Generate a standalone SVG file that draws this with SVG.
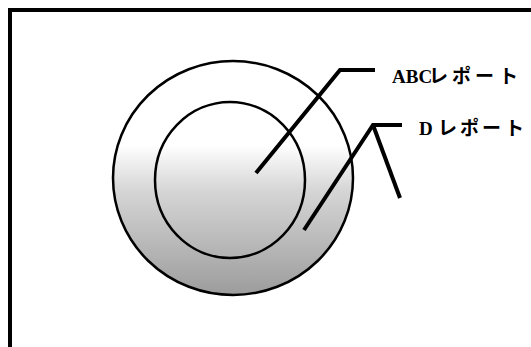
<svg xmlns="http://www.w3.org/2000/svg" width="531" height="347" viewBox="0 0 531 347">
  <style>
    .frame { fill: none; stroke: #000; stroke-width: 4; }
    .ring { stroke: #000; stroke-width: 2.5; fill: url(#shade); }
    .lead { fill: none; stroke: #000; stroke-width: 4; stroke-linejoin: miter; }
    .label { font-family: "Liberation Serif", "Noto Sans CJK JP", serif; font-weight: bold; font-size: 19px; fill: #000; }
    .kana { font-family: "Noto Sans CJK JP", sans-serif; font-weight: bold; font-size: 19px; }
  </style>
  <defs>
    <linearGradient id="shade" gradientUnits="userSpaceOnUse" x1="0" y1="145" x2="0" y2="295">
      <stop offset="0" stop-color="#ffffff"/>
      <stop offset="0.3" stop-color="#d6d6d6"/>
      <stop offset="1" stop-color="#9c9c9c"/>
    </linearGradient>
  </defs>
  <rect width="531" height="347" fill="#fff"/>
  <path class="frame" d="M10,347 V10 H531"/>
  <g id="outer">
    <ellipse class="ring" cx="233" cy="178" rx="120" ry="117"/>
  </g>
  <g id="inner">
    <ellipse class="ring" cx="230" cy="180" rx="75" ry="78"/>
  </g>
  <g id="connectors">
    <path class="lead" d="M256,173 L340,70 H375"/>
    <path class="lead" d="M304,230 L373,125 H402"/>
    <path class="lead" d="M373,125 L400,198"/>
  </g>
  <g id="label-abc">
    <text class="label" x="392" y="83">ABC<tspan class="kana" x="429 452 475 499">レポート</tspan></text>
  </g>
  <g id="label-d">
    <text class="label" x="419" y="135">D<tspan class="kana" x="438 460 482 505">レポート</tspan></text>
  </g>
</svg>
